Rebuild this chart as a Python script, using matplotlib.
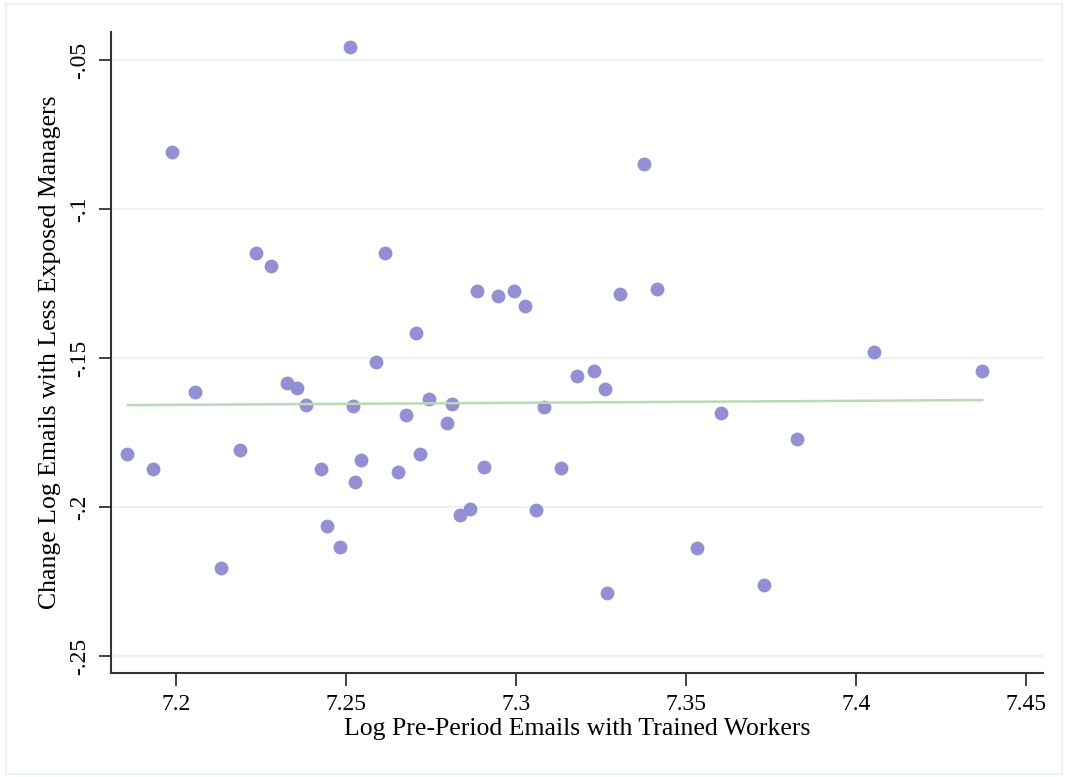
import numpy as np
import matplotlib.pyplot as plt
from matplotlib.patches import Rectangle

# binned scatter points
x_vals = [7.1856, 7.1932, 7.1988, 7.2056, 7.2132, 7.2188, 7.2235, 7.2279, 7.2326, 7.2356,
          7.2382, 7.2426, 7.2444, 7.2482, 7.2512, 7.2521, 7.2526, 7.2544, 7.2588, 7.2615,
          7.2653, 7.2676, 7.2706, 7.2718, 7.2744, 7.2797, 7.2812, 7.2835, 7.2865, 7.2885,
          7.2906, 7.2947, 7.2994, 7.3026, 7.3059, 7.3082, 7.3132, 7.3179, 7.3229, 7.3262,
          7.3268, 7.3306, 7.3376, 7.3415, 7.3532, 7.3603, 7.3729, 7.3826, 7.4053, 7.4371]
y_vals = [-0.1822, -0.1872, -0.0809, -0.1614, -0.2205, -0.1809, -0.1148, -0.1191, -0.1584, -0.1601,
          -0.1658, -0.1872, -0.2064, -0.2134, -0.0456, -0.1661, -0.1916, -0.1842, -0.1513, -0.1148,
          -0.1883, -0.1691, -0.1416, -0.1822, -0.1638, -0.1718, -0.1654, -0.2027, -0.2007, -0.1275,
          -0.1866, -0.1292, -0.1275, -0.1326, -0.2010, -0.1664, -0.1869, -0.1560, -0.1544, -0.1604,
          -0.2289, -0.1285, -0.0849, -0.1268, -0.2138, -0.1685, -0.2262, -0.1772, -0.1480, -0.1544]

# linear fit endpoints
fit_x = [7.1859, 7.4371]
fit_y = [-0.1658, -0.1641]

xticks = [7.2, 7.25, 7.3, 7.35, 7.4, 7.45]
xtick_labels = ['7.2', '7.25', '7.3', '7.35', '7.4', '7.45']
yticks = [-0.05, -0.1, -0.15, -0.2, -0.25]
ytick_labels = ['-.05', '-.1', '-.15', '-.2', '-.25']

plt.rcParams['font.family'] = ['Liberation Serif', 'DejaVu Serif']

fig = plt.figure(figsize=(10.68, 7.77), dpi=100)
ax = fig.add_axes([0.1039, 0.1338, 0.8727, 0.825])

# light outer frame like the stata graph region
fig.patches.append(Rectangle((0.006, 0.004), 0.988, 0.991, transform=fig.transFigure,
                             fill=False, edgecolor='#eaf2f3', linewidth=1.5))

for yt in yticks:
    ax.axhline(yt, color='#eaf2f3', linewidth=1.6, zorder=0)

ax.plot(x_vals, y_vals, 'o', color='#938fd3', markersize=10, markeredgewidth=0, zorder=2)
ax.plot(fit_x, fit_y, color='#b8dbb5', linewidth=1.8, zorder=3)

ax.set_xlim(7.1809, 7.455)
ax.set_ylim(-0.2557, -0.0406)
ax.set_xticks(xticks)
ax.set_xticklabels(xtick_labels)
ax.set_yticks(yticks)
ax.set_yticklabels(ytick_labels, rotation=90, va='center')

ax.spines['top'].set_visible(False)
ax.spines['right'].set_visible(False)
for s in ['left', 'bottom']:
    ax.spines[s].set_color('#333333')
    ax.spines[s].set_linewidth(1.5)
ax.tick_params(axis='both', length=9, width=1.3, color='#333333', labelsize=17, pad=6)

ax.set_xlabel('Log Pre-Period Emails with Trained Workers', fontsize=18.5, labelpad=2)
ax.set_ylabel('Change Log Emails with Less Exposed Managers', fontsize=18.5, labelpad=6)

plt.savefig('out.png', dpi=100)
